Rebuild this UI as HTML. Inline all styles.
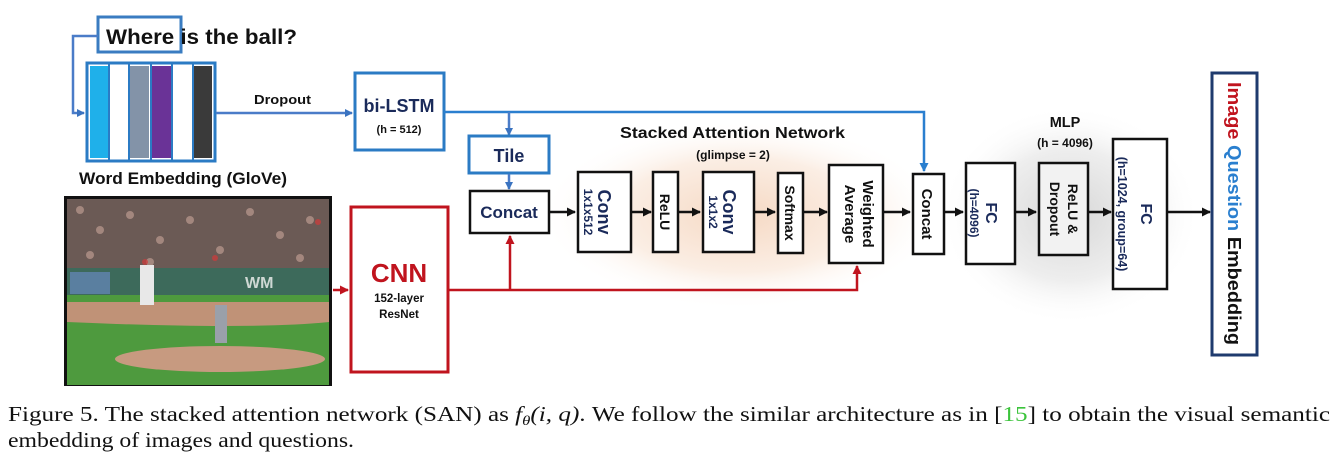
<!DOCTYPE html>
<html><head><meta charset="utf-8"><style>
body{margin:0;background:#fff;width:1343px;height:463px;overflow:hidden}
svg{display:block}
.b{font-family:"Liberation Sans",sans-serif;font-weight:bold}
.cap{font-family:"Liberation Serif",serif;font-size:21px;fill:#111}
</style></head><body>
<svg width="1343" height="463" viewBox="0 0 1343 463" xmlns="http://www.w3.org/2000/svg">
<defs>
<radialGradient id="glow" cx="50%" cy="50%" r="50%">
<stop offset="0" stop-color="#f6d9c4"/><stop offset="0.6" stop-color="#fbeee4"/><stop offset="1" stop-color="#fff" stop-opacity="0"/></radialGradient>
<radialGradient id="glow2" cx="50%" cy="50%" r="50%">
<stop offset="0" stop-color="#d8d8d8"/><stop offset="0.6" stop-color="#eeeeee"/><stop offset="1" stop-color="#fff" stop-opacity="0"/></radialGradient>
<marker id="ab" markerWidth="8" markerHeight="8" refX="7" refY="4" orient="auto" markerUnits="userSpaceOnUse"><path d="M0,0 L8,4 L0,8z" fill="#3a73c0"/></marker>
<marker id="ak" markerWidth="9" markerHeight="9" refX="8" refY="4.5" orient="auto" markerUnits="userSpaceOnUse"><path d="M0,0 L9,4.5 L0,9z" fill="#111"/></marker>
<marker id="ar" markerWidth="9" markerHeight="9" refX="8" refY="4.5" orient="auto" markerUnits="userSpaceOnUse"><path d="M0,0 L9,4.5 L0,9z" fill="#c0141e"/></marker>
<marker id="al" markerWidth="9" markerHeight="9" refX="8" refY="4.5" orient="auto" markerUnits="userSpaceOnUse"><path d="M0,0 L9,4.5 L0,9z" fill="#2a7fcf"/></marker>
</defs>
<ellipse cx="740" cy="215" rx="200" ry="95" fill="url(#glow)"/>
<ellipse cx="1070" cy="215" rx="130" ry="110" fill="url(#glow2)"/>

<rect x="98" y="17" width="83" height="35" fill="none" stroke="#3a7cc1" stroke-width="3"/>
<text x="106" y="44" class="b" font-size="21" fill="#111" textLength="191" lengthAdjust="spacingAndGlyphs">Where is the ball?</text>
<path d="M98,36 H73 V113 H84" fill="none" stroke="#4a7cc8" stroke-width="2.5" marker-end="url(#ab)"/>
<rect x="87" y="63" width="128" height="98" fill="#fff" stroke="#2b7bc4" stroke-width="3"/>
<rect x="90" y="66" width="18" height="92" fill="#1fb0ea"/>
<rect x="130" y="66" width="19" height="92" fill="#8393a8"/>
<rect x="152" y="66" width="19" height="92" fill="#6a3397"/>
<rect x="194" y="66" width="18" height="92" fill="#3a3a3a"/>
<line x1="109" y1="64" x2="109" y2="160" stroke="#2b7bc4" stroke-width="2"/>
<line x1="129" y1="64" x2="129" y2="160" stroke="#2b7bc4" stroke-width="2"/>
<line x1="151" y1="64" x2="151" y2="160" stroke="#2b7bc4" stroke-width="2"/>
<line x1="172" y1="64" x2="172" y2="160" stroke="#2b7bc4" stroke-width="2"/>
<line x1="193" y1="64" x2="193" y2="160" stroke="#2b7bc4" stroke-width="2"/>
<text x="79" y="184" class="b" font-size="16.5" fill="#111" textLength="208" lengthAdjust="spacingAndGlyphs">Word Embedding (GloVe)</text>
<path d="M216,113 H352" stroke="#4a7cc8" stroke-width="2.5" marker-end="url(#ab)"/>
<text x="254" y="104" class="b" font-size="13" fill="#111" textLength="57" lengthAdjust="spacingAndGlyphs">Dropout</text>
<rect x="355" y="73" width="89" height="77" fill="#fff" stroke="#2b7bc4" stroke-width="3"/>
<text x="399" y="112" class="b" font-size="18" fill="#1a2a5a" text-anchor="middle">bi-LSTM</text>
<text x="399" y="133" class="b" font-size="11" fill="#111" text-anchor="middle">(h = 512)</text>
<path d="M444,112 H924 V171" fill="none" stroke="#2a7fcf" stroke-width="2.5" marker-end="url(#al)"/>
<path d="M509,112 V135" stroke="#4a7cc8" stroke-width="2.5" marker-end="url(#ab)"/>
<rect x="469" y="136" width="80" height="37" fill="#fff" stroke="#2b7bc4" stroke-width="3"/>
<text x="509" y="162" class="b" font-size="18" fill="#1a2a5a" text-anchor="middle">Tile</text>
<path d="M509,174 V189" stroke="#4a7cc8" stroke-width="2.5" marker-end="url(#ab)"/>
<rect x="470" y="191" width="79" height="42" fill="#fff" stroke="#111" stroke-width="2.5"/>
<text x="509" y="218" class="b" font-size="17" fill="#1a2a5a" text-anchor="middle">Concat</text>

<rect x="64" y="196" width="268" height="190" fill="#111"/>
<rect x="67" y="199" width="262" height="70" fill="#6b5a55"/>
<g fill="#c9a59a" opacity="0.6">
<circle cx="80" cy="210" r="4"/><circle cx="100" cy="230" r="4"/><circle cx="130" cy="215" r="4"/><circle cx="160" cy="240" r="4"/><circle cx="190" cy="220" r="4"/><circle cx="220" cy="250" r="4"/><circle cx="250" cy="212" r="4"/><circle cx="280" cy="235" r="4"/><circle cx="310" cy="220" r="4"/><circle cx="90" cy="255" r="4"/><circle cx="300" cy="258" r="4"/><circle cx="150" cy="262" r="4"/>
</g>
<g fill="#d23a3a" opacity="0.7"><circle cx="145" cy="262" r="3"/><circle cx="215" cy="258" r="3"/><circle cx="318" cy="222" r="3"/></g>
<rect x="67" y="268" width="262" height="28" fill="#3d6a5b"/>
<rect x="70" y="272" width="40" height="22" fill="#5a7fa0"/>
<text x="245" y="288" class="b" font-size="16" fill="#cfd8d4">WM</text>
<rect x="67" y="295" width="262" height="90" fill="#4e9a3e"/>
<path d="M67,302 H329 V322 Q250,330 67,322z" fill="#c09277"/>
<ellipse cx="220" cy="359" rx="105" ry="13" fill="#c79a80"/>
<rect x="140" y="265" width="14" height="40" fill="#e8e8e8"/>
<rect x="215" y="305" width="12" height="38" fill="#9aa0aa"/>

<path d="M333,290 H348" stroke="#c0141e" stroke-width="2.5" marker-end="url(#ar)"/>
<rect x="351" y="207" width="97" height="165" fill="#fff" stroke="#c0141e" stroke-width="3"/>
<text x="399" y="282" class="b" font-size="26" fill="#c0141e" text-anchor="middle">CNN</text>
<text x="399" y="302" class="b" font-size="11.5" fill="#111" text-anchor="middle">152-layer</text>
<text x="399" y="318" class="b" font-size="11.5" fill="#111" text-anchor="middle">ResNet</text>
<path d="M448,290 H857 V266" fill="none" stroke="#c0141e" stroke-width="2.5" marker-end="url(#ar)"/>
<path d="M510,290 V236" stroke="#c0141e" stroke-width="2.5" marker-end="url(#ar)"/>

<text x="620" y="138" class="b" font-size="15.5" fill="#111" textLength="225" lengthAdjust="spacingAndGlyphs">Stacked Attention Network</text>
<text x="733" y="159" class="b" font-size="12" fill="#111" text-anchor="middle">(glimpse = 2)</text>
<g stroke="#111" stroke-width="2.5">
<path d="M549,212 H575" marker-end="url(#ak)"/>
<path d="M631,212 H651" marker-end="url(#ak)"/>
<path d="M678,212 H700" marker-end="url(#ak)"/>
<path d="M754,212 H775" marker-end="url(#ak)"/>
<path d="M803,212 H827" marker-end="url(#ak)"/>
<path d="M883,212 H910" marker-end="url(#ak)"/>
<path d="M944,212 H963" marker-end="url(#ak)"/>
<path d="M1015,212 H1036" marker-end="url(#ak)"/>
<path d="M1088,212 H1111" marker-end="url(#ak)"/>
<path d="M1167,212 H1210" marker-end="url(#ak)"/>
</g>
<g fill="#fff" stroke="#111" stroke-width="2.5">
<rect x="578" y="172" width="53" height="80"/>
<rect x="653" y="172" width="25" height="80"/>
<rect x="703" y="172" width="51" height="80"/>
<rect x="778" y="173" width="25" height="80"/>
<rect x="829" y="165" width="54" height="98"/>
<rect x="913" y="174" width="31" height="80"/>
<rect x="966" y="163" width="49" height="101"/>
<rect x="1039" y="163" width="49" height="92" fill="#f2f2f2"/>
<rect x="1113" y="139" width="54" height="150"/>
</g>
<g class="b">
<text transform="translate(598,212) rotate(90)" font-size="18" fill="#1a2a5a" text-anchor="middle">Conv</text>
<text transform="translate(584,212) rotate(90)" font-size="12" fill="#1a2a5a" text-anchor="middle">1x1x512</text>
<text transform="translate(660,212) rotate(90)" font-size="14" fill="#111" text-anchor="middle">ReLU</text>
<text transform="translate(723,212) rotate(90)" font-size="18" fill="#1a2a5a" text-anchor="middle">Conv</text>
<text transform="translate(709,212) rotate(90)" font-size="12" fill="#1a2a5a" text-anchor="middle">1x1x2</text>
<text transform="translate(785,213) rotate(90)" font-size="14" fill="#111" text-anchor="middle">Softmax</text>
<text transform="translate(863,214) rotate(90)" font-size="15" fill="#111" text-anchor="middle">Weighted</text>
<text transform="translate(845,214) rotate(90)" font-size="15" fill="#111" text-anchor="middle">Average</text>
<text transform="translate(922,214) rotate(90)" font-size="15" fill="#111" text-anchor="middle">Concat</text>
<text transform="translate(986,213) rotate(90)" font-size="16" fill="#1a2a5a" text-anchor="middle">FC</text>
<text transform="translate(970,213) rotate(90)" font-size="12" fill="#1a2a5a" text-anchor="middle">(h=4096)</text>
<text transform="translate(1068,209) rotate(90)" font-size="14" fill="#111" text-anchor="middle">ReLU &amp;</text>
<text transform="translate(1050,209) rotate(90)" font-size="14" fill="#111" text-anchor="middle">Dropout</text>
<text transform="translate(1141,214) rotate(90)" font-size="16" fill="#1a2a5a" text-anchor="middle">FC</text>
<text transform="translate(1118,214) rotate(90)" font-size="12.5" fill="#1a2a5a" text-anchor="middle">(h=1024, group=64)</text>
</g>
<text x="1065" y="127" class="b" font-size="14.5" fill="#111" text-anchor="middle">MLP</text>
<text x="1065" y="147" class="b" font-size="12" fill="#111" text-anchor="middle">(h = 4096)</text>
<rect x="1212" y="73" width="45" height="282" fill="#fff" stroke="#1f3b6e" stroke-width="3"/>
<text transform="translate(1228,82) rotate(90)" class="b" font-size="18" textLength="263" lengthAdjust="spacingAndGlyphs"><tspan fill="#c0141e">Image </tspan><tspan fill="#2a7fcf">Question </tspan><tspan fill="#111">Embedding</tspan></text>

<text x="8" y="421" class="cap" textLength="1322" lengthAdjust="spacingAndGlyphs">Figure 5. The stacked attention network (SAN) as <tspan font-style="italic">f<tspan font-size="14" dy="4">θ</tspan><tspan dy="-4">(i, q)</tspan></tspan>.  We follow the similar architecture as in [<tspan fill="#3cc43c">15</tspan>] to obtain the visual semantic</text>
<text x="8" y="447" class="cap" textLength="346" lengthAdjust="spacingAndGlyphs">embedding of images and questions.</text>
</svg>
</body></html>
